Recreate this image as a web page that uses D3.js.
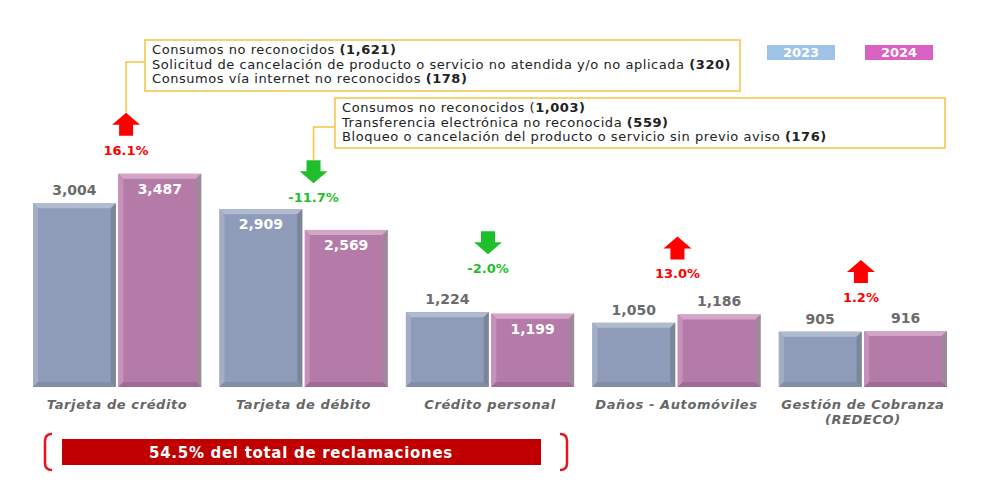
<!DOCTYPE html>
<html>
<head>
<meta charset="utf-8">
<script src="https://cdn.jsdelivr.net/npm/d3@7"></script>
<style>
  body { margin: 0; background: #fff; }
  svg { display: block; font-family: "DejaVu Sans", sans-serif; }
</style>
</head>
<body>
<svg id="chart" width="999" height="492"></svg>
<script>
var categories = ["Tarjeta de crédito", "Tarjeta de débito", "Crédito personal", "Daños - Automóviles", "Gestión de Cobranza|(REDECO)"];
var years = ["2023", "2024"];
var values2023 = [3004, 2909, 1224, 1050, 905];
var values2024 = [3487, 2569, 1199, 1186, 916];
var changes = ["16.1%", "-11.7%", "-2.0%", "13.0%", "1.2%"];
// label inside the bar (white) or above it (grey)
var inside2023 = [false, true, false, false, false];
var inside2024 = [true, true, true, false, false];

var callout1 = [["Consumos no reconocidos ", "(1,621)"],
                ["Solicitud de cancelación de producto o servicio no atendida y/o no aplicada ", "(320)"],
                ["Consumos vía internet no reconocidos ", "(178)"]];
var callout2 = [["Consumos no reconocidos (", "1,003)"],
                ["Transferencia electrónica no reconocida ", "(559)"],
                ["Bloqueo o cancelación del producto o servicio sin previo aviso ", "(176)"]];
var totalNote = "54.5% del total de reclamaciones";

// layout bits (pixels)
var arrowLift = [19, 7, 39, 36, 29];
var arrowShift = [9, 10, -2, 1, -2];

var svg = d3.select("#chart");
var baseY = 387;

var x = d3.scaleBand().domain(categories).range([33, 947]).paddingInner(0.098);
var xs = d3.scaleBand().domain(years).range([0, x.bandwidth()]).paddingInner(0.03);
var y = d3.scaleLinear().domain([0, 3500]).range([baseY, 173]);

var fills = {
  "2023": { main: "#8e9cba", top: "#b1bbd0", left: "#a3aec6", right: "#7b8597", bottom: "#838ea6" },
  "2024": { main: "#b57ba8", top: "#d3a6c8", left: "#c690ba", right: "#9c8a9a", bottom: "#a06c96" }
};

var rows = categories.map(function(c, i) {
  return { cat: c, i: i, bars: [
    { year: "2023", v: values2023[i], inside: inside2023[i] },
    { year: "2024", v: values2024[i], inside: inside2024[i] }
  ] };
});

var groups = svg.selectAll("g.grp").data(rows).enter().append("g")
  .attr("class", "grp")
  .attr("transform", function(d) { return "translate(" + x(d.cat) + ",0)"; });

var bars = groups.selectAll("g.bar").data(function(d) { return d.bars; }).enter().append("g")
  .attr("class", "bar");

var bv = 5;
bars.each(function(d) {
  var g = d3.select(this);
  var x0 = xs(d.year), x1 = x0 + xs.bandwidth(), y0 = y(d.v), y1 = baseY;
  var f = fills[d.year];
  g.append("rect").attr("x", x0).attr("y", y0).attr("width", x1 - x0).attr("height", y1 - y0).attr("fill", f.main);
  var poly = function(pts, col) {
    g.append("polygon").attr("points", pts.map(function(p) { return p.join(","); }).join(" ")).attr("fill", col);
  };
  poly([[x0, y0], [x1, y0], [x1 - bv, y0 + bv], [x0 + bv, y0 + bv]], f.top);
  poly([[x0, y0], [x0 + bv, y0 + bv], [x0 + bv, y1 - bv], [x0, y1]], f.left);
  poly([[x1, y0], [x1, y1], [x1 - bv, y1 - bv], [x1 - bv, y0 + bv]], f.right);
  poly([[x0, y1], [x0 + bv, y1 - bv], [x1 - bv, y1 - bv], [x1, y1]], f.bottom);

  g.append("text")
    .attr("x", (x0 + x1) / 2)
    .attr("y", d.inside ? y0 + 20 : y0 - 8)
    .attr("text-anchor", "middle")
    .attr("font-size", 14)
    .attr("font-weight", "bold")
    .attr("fill", d.inside ? "#ffffff" : "#6b6b6b")
    .text(d3.format(",")(d.v));
});

// category labels
groups.each(function(d) {
  var parts = d.cat.split("|");
  var t = d3.select(this).append("text")
    .attr("x", x.bandwidth() / 2)
    .attr("y", 409)
    .attr("text-anchor", "middle")
    .attr("font-size", 13)
    .attr("letter-spacing", 0.6)
    .attr("font-weight", "bold")
    .attr("font-style", "italic")
    .attr("fill", "#666");
  parts.forEach(function(p, k) {
    t.append("tspan").attr("x", x.bandwidth() / 2).attr("dy", k ? 15 : 0).text(p);
  });
});

// change arrows
var arrowPos = rows.map(function(d) {
  var top = y(Math.max(values2023[d.i], values2024[d.i]));
  return { cx: x(d.cat) + x.bandwidth() / 2 + arrowShift[d.i], ly: top - arrowLift[d.i], up: changes[d.i][0] !== "-", txt: changes[d.i] };
});

arrowPos.forEach(function(a) {
  var col = a.up ? "#ff0000" : "#1fbf2b";
  var ay = a.ly - 19; // bottom of arrow
  var pts;
  if (a.up) {
    pts = [[a.cx, ay - 23], [a.cx + 14, ay - 11], [a.cx + 7, ay - 11], [a.cx + 7, ay], [a.cx - 7, ay], [a.cx - 7, ay - 11], [a.cx - 14, ay - 11]];
  } else {
    pts = [[a.cx - 7, ay - 23], [a.cx + 7, ay - 23], [a.cx + 7, ay - 12], [a.cx + 14, ay - 12], [a.cx, ay], [a.cx - 14, ay - 12], [a.cx - 7, ay - 12]];
  }
  svg.append("polygon").attr("points", pts.map(function(p) { return p.join(","); }).join(" ")).attr("fill", col);
  svg.append("text")
    .attr("x", a.cx).attr("y", a.ly)
    .attr("text-anchor", "middle")
    .attr("font-size", 13)
    .attr("font-weight", "bold")
    .attr("fill", col)
    .text(a.txt);
  a.top = ay - 23;
});

// callouts
function callout(lines, bx, by, bw, bh, a, hy) {
  svg.append("polyline")
    .attr("points", [[a.cx, a.top], [a.cx, hy], [bx, hy]].map(function(p) { return p.join(","); }).join(" "))
    .attr("fill", "none").attr("stroke", "#f5c342").attr("stroke-width", 1.5);
  svg.append("rect").attr("x", bx).attr("y", by).attr("width", bw).attr("height", bh)
    .attr("fill", "#fff").attr("stroke", "#f5c342").attr("stroke-width", 1.5);
  lines.forEach(function(l, k) {
    var t = svg.append("text").attr("x", bx + 7).attr("y", by + 14 + k * 14.5)
      .attr("font-size", 13).attr("letter-spacing", 0.55).attr("fill", "#222");
    t.append("tspan").text(l[0]);
    t.append("tspan").attr("font-weight", "bold").text(l[1]);
  });
}
callout(callout1, 145, 40, 595, 51, arrowPos[0], 62);
callout(callout2, 335, 98, 610, 50, arrowPos[1], 127);

// legend
var legendX = { "2023": 767, "2024": 865 };
var legendFill = { "2023": "#9fc3e6", "2024": "#d961c1" };
years.forEach(function(yr) {
  svg.append("rect").attr("x", legendX[yr]).attr("y", 45).attr("width", 68).attr("height", 15).attr("fill", legendFill[yr]);
  svg.append("text").attr("x", legendX[yr] + 34).attr("y", 57).attr("text-anchor", "middle")
    .attr("font-size", 13).attr("font-weight", "bold").attr("fill", "#fff").text(yr);
});

// bottom note
svg.append("rect").attr("x", 62).attr("y", 439).attr("width", 479).attr("height", 26).attr("fill", "#c00000");
svg.append("text").attr("x", 301).attr("y", 457.5).attr("text-anchor", "middle")
  .attr("font-size", 15).attr("letter-spacing", 0.7).attr("font-weight", "bold").attr("fill", "#fff").text(totalNote);
svg.append("path").attr("d", "M52,434 Q45,434 45,441 L45,463 Q45,470 52,470")
  .attr("fill", "none").attr("stroke", "#e8141c").attr("stroke-width", 2.5);
svg.append("path").attr("d", "M560,434 Q567,434 567,441 L567,463 Q567,470 560,470")
  .attr("fill", "none").attr("stroke", "#e8141c").attr("stroke-width", 2.5);
</script>
</body>
</html>
